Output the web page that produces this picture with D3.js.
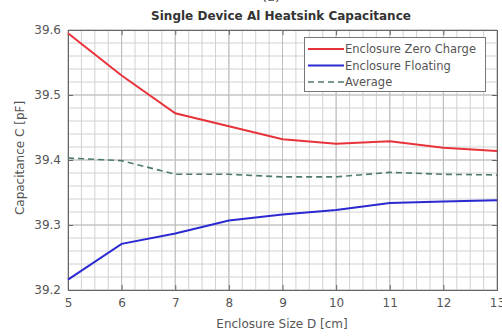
<!DOCTYPE html>
<html><head><meta charset="utf-8">
<script src="https://cdn.jsdelivr.net/npm/d3@7"></script>
<style>body{margin:0;background:#fff}svg{display:block}</style>
</head><body>
<script>
const sizes = [5, 6, 7, 8, 9, 10, 11, 12, 13];
const zeroCharge = [39.595, 39.530, 39.472, 39.452, 39.432, 39.425, 39.429, 39.419, 39.414];
const floating   = [39.216, 39.271, 39.287, 39.307, 39.316, 39.323, 39.334, 39.336, 39.338];
const average    = [39.403, 39.399, 39.378, 39.378, 39.374, 39.374, 39.381, 39.378, 39.377];
const yTicks = [39.2, 39.3, 39.4, 39.5, 39.6];
const xTicks = [5, 6, 7, 8, 9, 10, 11, 12, 13];
const seriesNames = ["Enclosure Zero Charge", "Enclosure Floating", "Average"];

const W = 502, H = 336;
const m = {l: 68, r: 5, t: 30, b: 46};
const svg = d3.select("body").append("svg").attr("width", W).attr("height", H);
const x = d3.scaleLinear().domain([5, 13]).range([m.l, W - m.r]);
const y = d3.scaleLinear().domain([39.2, 39.6]).range([H - m.b, m.t]);
const font = "DejaVu Sans, sans-serif";
const txt = "#555";

// partial label at very top (cut off in the original too)
svg.append("text").attr("x", 271).attr("y", 1).attr("text-anchor", "middle")
  .attr("font-family", font).attr("font-size", 13).attr("fill", "#444").text("(a)");

// minor grid
const g = svg.append("g");
const xMinor = d3.range(5, 13.001, 0.25);
const yMinor = d3.range(39.2, 39.6001, 0.02);
g.selectAll(".xm").data(xMinor).join("line")
  .attr("x1", d => x(d)).attr("x2", d => x(d)).attr("y1", y(39.2)).attr("y2", y(39.6))
  .attr("stroke", "#d2d2d2").attr("stroke-width", 1);
g.selectAll(".ym").data(yMinor).join("line")
  .attr("y1", d => y(d)).attr("y2", d => y(d)).attr("x1", x(5)).attr("x2", x(13))
  .attr("stroke", "#d2d2d2").attr("stroke-width", 1);
// major grid
g.selectAll(".xM").data(xTicks).join("line")
  .attr("x1", d => x(d)).attr("x2", d => x(d)).attr("y1", y(39.2)).attr("y2", y(39.6))
  .attr("stroke", "#bdbdbd").attr("stroke-width", 1);
g.selectAll(".yM").data(yTicks).join("line")
  .attr("y1", d => y(d)).attr("y2", d => y(d)).attr("x1", x(5)).attr("x2", x(13))
  .attr("stroke", "#bdbdbd").attr("stroke-width", 1);

// axes
const xAxis = d3.axisBottom(x).tickValues(xTicks).tickSize(-5).tickPadding(8).tickFormat(d3.format("d"));
const yAxis = d3.axisLeft(y).tickValues(yTicks).tickSize(-5).tickPadding(7).tickFormat(d3.format(".1f"));
const xa = svg.append("g").attr("transform", `translate(0,${y(39.2)})`).call(xAxis);
const ya = svg.append("g").attr("transform", `translate(${x(5)},0)`).call(yAxis);
svg.append("g").attr("transform", `translate(0,${y(39.6)})`)
  .call(d3.axisTop(x).tickValues(xTicks).tickSize(-5).tickFormat(""));
svg.append("g").attr("transform", `translate(${x(13)},0)`)
  .call(d3.axisRight(y).tickValues(yTicks).tickSize(-5).tickFormat(""));
svg.selectAll(".domain, .tick line").attr("stroke", "#666");
[xa, ya].forEach(a => a.selectAll("text").attr("font-family", font).attr("font-size", 12).attr("fill", txt));

// lines
const line = d3.line().x((d, i) => x(sizes[i])).y(d => y(d));
svg.append("path").datum(zeroCharge).attr("d", line).attr("fill", "none")
  .attr("stroke", "#e8333a").attr("stroke-width", 2);
svg.append("path").datum(floating).attr("d", line).attr("fill", "none")
  .attr("stroke", "#2a2ad0").attr("stroke-width", 2);
svg.append("path").datum(average).attr("d", line).attr("fill", "none")
  .attr("stroke", "#4e7a6c").attr("stroke-width", 1.6).attr("stroke-dasharray", "6,4");

// title
svg.append("text").attr("x", 281).attr("y", 20).attr("text-anchor", "middle")
  .attr("font-family", font).attr("font-size", 12).attr("font-weight", "bold").attr("fill", "#333")
  .text("Single Device Al Heatsink Capacitance");
// axis labels
svg.append("text").attr("x", 282).attr("y", 328).attr("text-anchor", "middle")
  .attr("font-family", font).attr("font-size", 12).attr("fill", txt).text("Enclosure Size D [cm]");
svg.append("text").attr("transform", "translate(24,158) rotate(-90)").attr("text-anchor", "middle")
  .attr("font-family", font).attr("font-size", 12).attr("fill", txt).text("Capacitance C [pF]");

// legend
const lg = svg.append("g");
lg.append("rect").attr("x", 304.5).attr("y", 37.5).attr("width", 181).attr("height", 54)
  .attr("fill", "#fff").attr("stroke", "#777").attr("stroke-width", 1);
const lColors = ["#e8333a", "#2a2ad0", "#4e7a6c"];
const lDash = [null, null, "6,4"];
seriesNames.forEach((n, i) => {
  const yy = 49 + i * 16.5;
  lg.append("line").attr("x1", 308).attr("x2", 344).attr("y1", yy).attr("y2", yy)
    .attr("stroke", lColors[i]).attr("stroke-width", i === 2 ? 1.6 : 2).attr("stroke-dasharray", lDash[i]);
  lg.append("text").attr("x", 345).attr("y", yy + 4).attr("font-family", font).attr("font-size", 11.5)
    .attr("fill", txt).text(n);
});
</script>
</body></html>
